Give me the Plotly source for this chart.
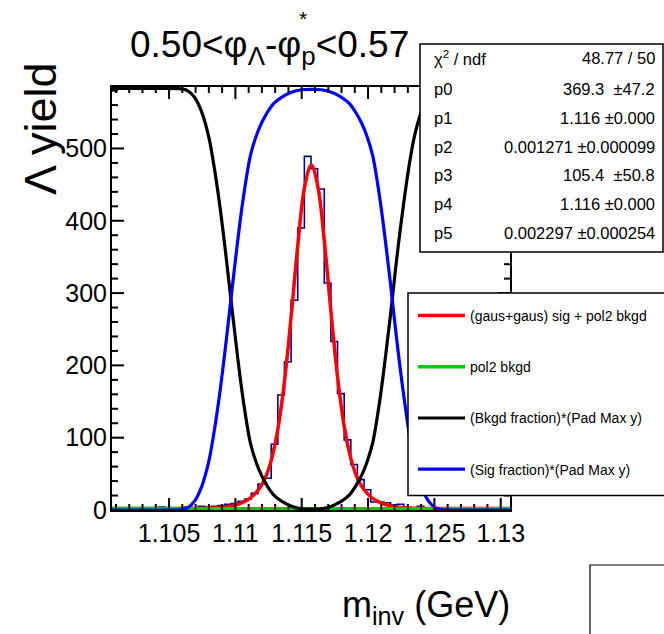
import plotly.graph_objects as go

# ---------------- data ----------------
BIN_LO = 1.1007
BIN_W = 0.0005
counts = [2, 1, 3, 2, 2, 3, 1, 4, 2, 3, 2, 4, 3, 5, 4, 5, 6, 8, 9,
          12, 15, 23, 36, 44, 91, 159, 205, 290, 390, 489, 472, 444, 314, 233, 161, 97, 63, 42, 28, 11, 11, 10,
          7, 8, 4, 3, 5, 2, 3, 2, 1, 3, 2, 1, 2, 1, 0, 2, 1, 1]

fit_x = [1.1007, 1.1030, 1.1050, 1.10672, 1.10872, 1.10972, 1.11072, 1.11122, 1.11172, 1.11222,
         1.11272, 1.11322, 1.11372, 1.11422, 1.11472, 1.11522, 1.11572, 1.11622, 1.11672, 1.11722,
         1.11772, 1.11822, 1.11872, 1.11922, 1.11972, 1.12022, 1.12072, 1.12172, 1.12272, 1.12472,
         1.1270, 1.1307]
fit_y = [2, 2, 2, 2.1, 3, 5.5, 12, 18, 27.7, 43, 70, 114, 181, 271, 369, 447, 477, 447, 369, 271,
         181, 114, 70, 43, 27.7, 18, 12, 5.5, 3, 2.1, 2, 2]

bkg_x = [1.1007, 1.1157, 1.1307]
bkg_y = [2.0, 1.8, 1.6]

frac_x = [1.1007, 1.1035, 1.10594, 1.10639, 1.10692, 1.10745, 1.10798, 1.10843, 1.10881, 1.10918,
          1.10948, 1.10979, 1.11016, 1.11061, 1.11114, 1.11159, 1.11197, 1.11235, 1.11288, 1.11348,
          1.11423, 1.11499, 1.11574, 1.11649, 1.11725, 1.11800, 1.11860, 1.11913, 1.11951, 1.11989,
          1.12034, 1.12087, 1.12132, 1.12170, 1.12200, 1.12230, 1.12268, 1.12305, 1.12350, 1.12403,
          1.12456, 1.12509, 1.12554, 1.1280, 1.1307]
sig_frac = [0.0, 0.0, 0.001, 0.005, 0.021, 0.055, 0.113, 0.192, 0.274, 0.367,
            0.449, 0.535, 0.635, 0.743, 0.842, 0.889, 0.918, 0.940, 0.964, 0.979,
            0.991, 0.997, 0.998, 0.997, 0.991, 0.979, 0.964, 0.940, 0.918, 0.889,
            0.842, 0.743, 0.635, 0.535, 0.449, 0.367, 0.274, 0.192, 0.113, 0.055,
            0.021, 0.005, 0.001, 0.0, 0.0]
PAD_MAX = 583

stats_labels = ["χ<sup>2</sup> / ndf", "p0", "p1", "p2", "p3", "p4", "p5"]
stats_values = ["48.77 / 50", "369.3 \u00a0±47.2", "1.116 ±0.000", "0.001271 ±0.000099",
                "105.4 \u00a0±50.8", "1.116 ±0.000", "0.002297 ±0.000254"]

X_TICK0, X_DTICK, X_MINOR = 1.1, 0.005, 0.001
Y_TICK0, Y_DTICK, Y_MINOR = 0, 100, 20
Y_MAX = 585

FONT = "Liberation Sans, Arial, Helvetica, sans-serif"

# ---------------- figure ----------------
W, H = 664, 634
L, R, T, B = 112, 154, 87, 124
PW, PH = W - L - R, H - T - B


def px(xp):
    return (xp - L) / PW


def py(yp):
    return (H - B - yp) / PH


def steps(lo, hi, step):
    n = int(round((hi - lo) / step))
    return [round(lo + i * step, 6) for i in range(n + 1)]


edges = [BIN_LO + BIN_W * i for i in range(len(counts) + 1)]
XR = [BIN_LO, BIN_LO + BIN_W * len(counts)]

fig = go.Figure()
fig.add_trace(go.Scatter(x=edges, y=counts + [counts[-1]], mode="lines", line=dict(shape="hv", color="#000099", width=1.6),
                         showlegend=False, hoverinfo="skip"))
fig.add_trace(go.Scatter(x=fit_x, y=fit_y, mode="lines", line=dict(shape="spline", color="#ff0000", width=3.5),
                         name="(gaus+gaus) sig + pol2 bkgd", legendgroup="a"))
fig.add_trace(go.Scatter(x=bkg_x, y=bkg_y, mode="lines", line=dict(color="#00cc00", width=3.5),
                         name="pol2 bkgd", legendgroup="b"))
fig.add_trace(go.Scatter(x=frac_x, y=[(1 - f) * PAD_MAX for f in sig_frac], mode="lines",
                         line=dict(shape="spline", color="#000000", width=3.2),
                         name="(Bkgd fraction)*(Pad Max y)", legendgroup="c"))
fig.add_trace(go.Scatter(x=frac_x, y=[f * PAD_MAX for f in sig_frac], mode="lines",
                         line=dict(shape="spline", color="#0000ff", width=3.2),
                         name="(Sig fraction)*(Pad Max y)", legendgroup="d"))

# ROOT-style inside tick marks on all four sides, drawn through the axes' own scales
x_major = [v for v in steps(X_TICK0, XR[1], X_DTICK) if XR[0] < v <= XR[1]]
x_minor = [v for v in steps(X_TICK0, XR[1], X_MINOR) if XR[0] < v <= XR[1] and v not in x_major]
y_major = [v for v in steps(Y_TICK0, Y_MAX, Y_DTICK) if 0 < v < Y_MAX]
y_minor = [v for v in steps(Y_TICK0, Y_MAX, Y_MINOR) if 0 < v < Y_MAX and v not in y_major]
ypp = Y_MAX / PH                  # data units per pixel (y)
xpp = (XR[1] - XR[0]) / PW        # data units per pixel (x)
tx, ty = [], []
for vals, ln in ((x_major, 12), (x_minor, 6)):
    for v in vals:
        tx += [v, v, None, v, v, None]
        ty += [0, ln * ypp, None, Y_MAX, Y_MAX - ln * ypp, None]
for vals, ln in ((y_major, 12), (y_minor, 6)):
    for v in vals:
        tx += [XR[0], XR[0] + ln * xpp, None, XR[1], XR[1] - ln * xpp, None]
        ty += [v, v, None, v, v, None]
fig.add_trace(go.Scatter(x=tx, y=ty, mode="lines", line=dict(color="black", width=2),
                         showlegend=False, hoverinfo="skip", connectgaps=False))

axis_common = dict(showline=True, linecolor="black", linewidth=2, mirror=True, ticks="",
                   showgrid=False, zeroline=False,
                   tickfont=dict(family=FONT, size=25, color="black"))
fig.update_xaxes(range=XR, tickmode="linear", tick0=X_TICK0, dtick=X_DTICK, **axis_common)
fig.update_yaxes(range=[0, Y_MAX], tickmode="linear", tick0=Y_TICK0, dtick=Y_DTICK, ticklabelstandoff=-2,
                 **axis_common)

shapes = []
# stats box
shapes.append(dict(type="rect", xref="paper", yref="paper", x0=px(420), x1=px(663), y0=py(252), y1=py(44),
                   line=dict(color="black", width=1.5), fillcolor="white", layer="above"))
# legend box
shapes.append(dict(type="rect", xref="paper", yref="paper", x0=px(408), x1=px(700), y0=py(495.5), y1=py(293),
                   line=dict(color="black", width=1.5), fillcolor="white", layer="above"))
# empty box bottom right
shapes.append(dict(type="rect", xref="paper", yref="paper", x0=px(590), x1=px(700), y0=py(680), y1=py(565),
                   line=dict(color="black", width=1.2), fillcolor="white", layer="above"))

annotations = []
row_y = [58, 89, 118, 147, 175, 204, 233]
for lab, val, ry in zip(stats_labels, stats_values, row_y):
    annotations.append(dict(xref="paper", yref="paper", x=px(432), y=py(ry), xanchor="left", yanchor="middle",
                            text=lab, showarrow=False, font=dict(family=FONT, size=16.5, color="black")))
    annotations.append(dict(xref="paper", yref="paper", x=px(657), y=py(ry), xanchor="right", yanchor="middle",
                            text=val, showarrow=False, font=dict(family=FONT, size=16.5, color="black")))

# title
annotations.append(dict(xref="paper", yref="paper", x=px(128), y=py(47), xanchor="left", yanchor="middle",
                        text="0.50<φ<sub>Λ</sub>-φ<sub>p</sub><0.57", showarrow=False,
                        font=dict(family=FONT, size=37, color="black")))
annotations.append(dict(xref="paper", yref="paper", x=px(303), y=py(18), xanchor="center", yanchor="middle",
                        text="*", showarrow=False, font=dict(family=FONT, size=21, color="black")))
# axis titles
annotations.append(dict(xref="paper", yref="paper", x=px(40), y=py(129), xanchor="center", yanchor="middle",
                        text="Λ yield", textangle=-90, showarrow=False,
                        font=dict(family=FONT, size=45, color="black")))
annotations.append(dict(xref="paper", yref="paper", x=px(512), y=py(607), xanchor="right", yanchor="middle",
                        text="m<sub>inv</sub> (GeV)", showarrow=False,
                        font=dict(family=FONT, size=36, color="black")))

fig.update_layout(
    width=W, height=H,
    margin=dict(l=L, r=R, t=T, b=B, autoexpand=False),
    paper_bgcolor="white", plot_bgcolor="white",
    font=dict(family=FONT, color="black"),
    shapes=shapes, annotations=annotations,
    showlegend=True,
    legend=dict(x=px(413), y=py(300), xanchor="left", yanchor="top", bgcolor="rgba(0,0,0,0)", borderwidth=0,
                font=dict(family=FONT, size=14, color="black"), tracegroupgap=30, itemwidth=47,
                traceorder="grouped"),
)

fig.write_html("out.html")
